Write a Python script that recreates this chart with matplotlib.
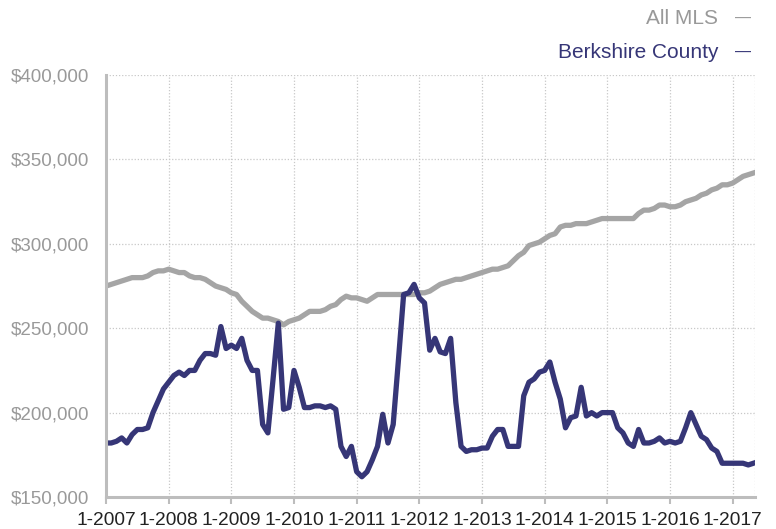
import numpy as np
import matplotlib
matplotlib.use("Agg")
import matplotlib.pyplot as plt
from matplotlib.ticker import FuncFormatter

# monthly median prices, Jan 2007 - May 2017 (in $1000s)
all_mls = [275, 276, 277, 278, 279, 280, 280, 280, 281, 283, 284, 284,
           285, 284, 283, 283, 281, 280, 280, 279, 277, 275, 274, 273,
           271, 270, 266, 263, 260, 258, 256, 256, 255, 254, 252, 254,
           255, 256, 258, 260, 260, 260, 261, 263, 264, 267, 269, 268,
           268, 267, 266, 268, 270, 270, 270, 270, 270, 270, 270, 270,
           271, 271, 272, 274, 276, 277, 278, 279, 279, 280, 281, 282,
           283, 284, 285, 285, 286, 287, 290, 293, 295, 299, 300, 301,
           303, 305, 306, 310, 311, 311, 312, 312, 312, 313, 314, 315,
           315, 315, 315, 315, 315, 315, 318, 320, 320, 321, 323, 323,
           322, 322, 323, 325, 326, 327, 329, 330, 332, 333, 335, 335,
           336, 338, 340, 341, 342]

berkshire = [182, 182, 183, 185, 182, 187, 190, 190, 191, 200, 207, 214,
             218, 222, 224, 222, 225, 225, 231, 235, 235, 234, 251, 238,
             240, 238, 244, 231, 225, 225, 193, 188, 220, 253, 202, 203,
             225, 215, 203, 203, 204, 204, 203, 204, 202, 180, 174, 180,
             165, 162, 165, 172, 180, 199, 182, 193, 231, 270, 271, 276,
             268, 265, 237, 244, 236, 235, 244, 206, 180, 177, 178, 178,
             179, 179, 186, 190, 190, 180, 180, 180, 210, 218, 220, 224,
             225, 230, 218, 208, 191, 197, 198, 215, 198, 200, 198, 200,
             200, 200, 191, 188, 182, 180, 190, 182, 182, 183, 185, 182,
             183, 182, 183, 191, 200, 193, 186, 184, 179, 177, 170, 170,
             170, 170, 170, 169, 170]

tick_labels = ["1-2007", "1-2008", "1-2009", "1-2010", "1-2011", "1-2012",
               "1-2013", "1-2014", "1-2015", "1-2016", "1-2017"]

gray = "#a5a5a5"
navy = "#363677"

plt.rcParams['font.family'] = ['Liberation Sans', 'DejaVu Sans']

fig = plt.figure(figsize=(7.76, 5.29), dpi=100)
ax = fig.add_axes([0.1366, 0.0605, 0.8364, 0.7975])

months = np.arange(len(all_mls))
ax.plot(months, np.array(all_mls) * 1000, color=gray, lw=3.8, solid_joinstyle="round")
ax.plot(months, np.array(berkshire) * 1000, color=navy, lw=3.8, solid_joinstyle="round")

ax.set_xlim(0, 124.3)
ax.set_ylim(150000, 400000)
ax.set_yticks(np.arange(150000, 400001, 50000))
ax.yaxis.set_major_formatter(FuncFormatter(lambda v, p: "${:,.0f}".format(v)))
ax.set_xticks(np.arange(0, 121, 12))
ax.set_xticklabels(tick_labels)

ax.grid(True, color="#c8c8c8", linestyle=(0, (1, 1.5)), lw=0.9)
# right border drawn as a dotted grid-like line
ax.axvline(124.3, color="#c8c8c8", linestyle=(0, (1, 1.5)), lw=0.9)
ax.set_axisbelow(True)

for s in ["top", "right"]:
    ax.spines[s].set_visible(False)
for s in ["left", "bottom"]:
    ax.spines[s].set_color("#bdbdbd")
    ax.spines[s].set_linewidth(2.2)

ax.tick_params(axis="y", length=0, pad=12, labelsize=13.5, labelcolor="#999999")
ax.tick_params(axis="x", length=5, width=1.5, color="#bdbdbd", pad=6,
               labelsize=13.8, labelcolor="#222222")

# legend as right-aligned texts with short dashes
fig.text(718 / 776, 1 - 18 / 529, "All MLS", ha="right", va="center",
         fontsize=15, color="#999999")
fig.text(735 / 776, 1 - 18 / 529, "\u2014", ha="left", va="center",
         fontsize=11.5, color="#999999")
fig.text(718 / 776, 1 - 52 / 529, "Berkshire County", ha="right", va="center",
         fontsize=15, color=navy)
fig.text(735 / 776, 1 - 52 / 529, "\u2014", ha="left", va="center",
         fontsize=11.5, color=navy)

fig.savefig("out.png", dpi=100)
